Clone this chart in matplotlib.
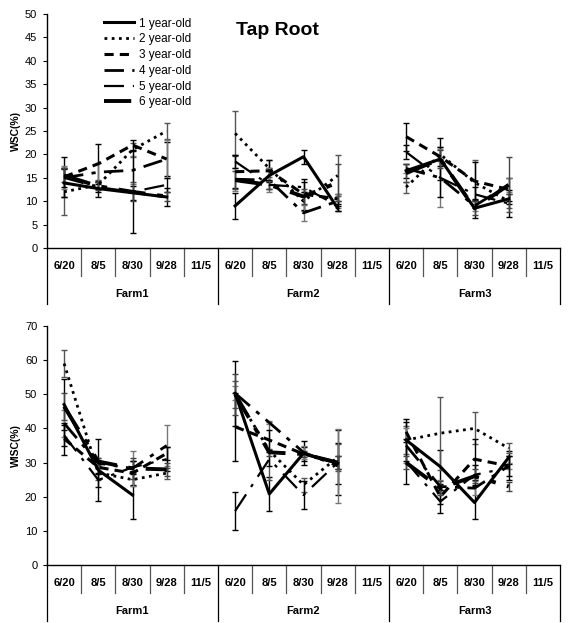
import numpy as np
import matplotlib
matplotlib.use('Agg')
import matplotlib.pyplot as plt
from matplotlib.lines import Line2D

plt.rcParams['font.family'] = ['Liberation Sans', 'DejaVu Sans']

dates = ['6/20', '8/5', '8/30', '9/28', '11/5']
farms = ['Farm1', 'Farm2', 'Farm3']
labels = ['1 year-old', '2 year-old', '3 year-old', '4 year-old', '5 year-old', '6 year-old']
nan = np.nan

# ---- Top panel (WSC %) : 15 values per series (Farm1 x5, Farm2 x5, Farm3 x5)
top_y1 = [13.9, 12.7, 11.8, 10.9, nan, 9.0, 15.5, 19.5, 8.5, nan, 16.5, 19.0, 8.5, 10.5, nan]
top_y2 = [12.0, 13.5, 21.0, 25.0, nan, 24.5, 17.0, 10.0, 15.5, nan, 13.0, 20.0, 14.0, 10.0, nan]
top_y3 = [15.2, 18.0, 22.0, 19.0, nan, 16.3, 16.5, 11.5, 10.5, nan, 23.8, 19.5, 14.3, 12.5, nan]
top_y4 = [15.0, 16.2, 16.6, 19.0, nan, 14.7, 14.5, 7.5, 10.0, nan, 17.0, 15.0, 9.0, 13.5, nan]
top_y5 = [15.0, 13.0, 12.0, 13.5, nan, 18.5, 13.5, 13.0, 9.0, nan, 20.5, 15.0, 11.5, 9.5, nan]
top_y6 = [15.5, 13.2, 12.0, 11.0, nan, 14.5, 13.5, 11.0, 14.0, nan, 16.0, 19.0, 8.5, 13.5, nan]

top_e1 = [3.0, 1.7, 1.5, 1.9, nan, 2.8, 1.5, 1.5, 0.5, nan, 1.5, 4.5, 2.0, 1.0, nan]
top_e2 = [5.0, 1.0, 1.5, 1.8, nan, 4.8, 1.8, 2.0, 4.3, nan, 1.2, 1.5, 4.7, 1.5, nan]
top_e3 = [4.2, 4.3, 1.0, 3.7, nan, 3.5, 2.2, 3.3, 1.0, nan, 3.0, 2.0, 4.0, 2.5, nan]
top_e4 = [2.5, 2.0, 3.0, 4.0, nan, 2.5, 2.5, 1.7, 1.5, nan, 1.0, 6.2, 1.0, 1.5, nan]
top_e5 = [2.0, 1.0, 8.8, 1.5, nan, 1.3, 1.0, 1.0, 1.0, nan, 1.5, 4.0, 1.5, 2.8, nan]
top_e6 = [1.5, 0.8, 2.0, 1.0, nan, 2.0, 0.8, 1.5, 4.0, nan, 2.0, 2.0, 1.5, 5.9, nan]

# ---- Bottom panel (WISC %)
bot_y1 = [47.0, 27.8, 20.5, nan, nan, 50.3, 20.8, 32.7, 29.8, nan, 36.6, 28.8, 18.3, 31.5, nan]
bot_y2 = [59.0, 27.0, 25.0, 26.9, nan, 50.0, 33.5, 23.5, 31.5, nan, 36.6, 38.6, 40.0, 34.2, nan]
bot_y3 = [37.0, 28.6, 26.9, 32.7, nan, 40.5, 36.6, 32.5, 30.0, nan, 39.0, 20.0, 31.0, 29.0, nan]
bot_y4 = [41.5, 29.8, 28.3, 35.0, nan, 50.3, 41.7, 33.0, 29.0, nan, 35.0, 23.0, 22.5, 29.0, nan]
bot_y5 = [38.0, 24.9, 28.6, 31.0, nan, 15.8, 31.0, 20.5, 30.0, nan, 30.3, 18.6, 26.4, 28.5, nan]
bot_y6 = [46.4, 30.3, 28.3, 28.0, nan, 50.0, 33.0, 32.5, 30.0, nan, 30.0, 22.5, 26.0, 23.0, nan]

bot_e1 = [7.5, 9.0, 7.0, nan, nan, 9.5, 5.0, 3.5, 6.0, nan, 6.2, 5.0, 4.8, 2.0, nan]
bot_e2 = [4.0, 2.0, 2.0, 1.6, nan, 4.0, 8.5, 2.0, 4.0, nan, 4.0, 10.7, 4.7, 1.4, nan]
bot_e3 = [4.7, 2.0, 3.5, 2.0, nan, 10.0, 3.0, 2.0, 9.4, nan, 3.0, 2.0, 6.0, 3.0, nan]
bot_e4 = [4.0, 1.5, 5.2, 6.0, nan, 2.0, 0.5, 2.0, 10.8, nan, 5.0, 2.0, 2.0, 1.0, nan]
bot_e5 = [3.0, 2.0, 2.0, 3.5, nan, 5.5, 2.0, 4.0, 2.0, nan, 6.5, 3.4, 3.0, 3.5, nan]
bot_e6 = [4.0, 1.0, 3.0, 2.0, nan, 6.0, 1.0, 1.0, 2.0, nan, 2.0, 2.0, 2.0, 1.2, nan]

styles = [
    dict(ls='-', lw=2.2),
    dict(ls=(0, (1, 1.6)), lw=2.0),
    dict(ls=(0, (3, 2)), lw=2.2),
    dict(ls=(0, (7, 3, 1.5, 3)), lw=2.0),
    dict(ls=(0, (9, 4, 1.5, 4)), lw=1.6),
    dict(ls=(0, (7, 3, 1.5, 3)), lw=2.8),
]
ecolors = ['black', '#555555', 'black', '#777777', 'black', '#444444']

fig = plt.figure(figsize=(5.69, 6.23), dpi=100)
W, H = 569, 623

def make_ax(top_px, bot_px):
    return fig.add_axes([47 / W, 1 - bot_px / H, (560 - 47) / W, (bot_px - top_px) / H])

ax1 = make_ax(14, 248)
ax2 = make_ax(326, 565)

x = np.arange(15) + 0.5

def draw(ax, ys, es, ymax, step, ylabel):
    for i, (y, e) in enumerate(zip(ys, es)):
        ax.errorbar(x, y, yerr=e, color='black', ecolor=ecolors[i], elinewidth=1.0,
                    capsize=2.5, capthick=1.0, **styles[i])
    ax.set_xlim(0, 15)
    ax.set_ylim(0, ymax)
    ax.set_yticks(np.arange(0, ymax + 0.1, step))
    ax.tick_params(axis='y', direction='out', length=3, labelsize=8, pad=4)
    ax.set_xticks([])
    for s in ['top', 'right']:
        ax.spines[s].set_visible(False)
    ax.spines['left'].set_linewidth(1.0)
    ax.spines['bottom'].set_linewidth(1.0)
    ax.set_ylabel(ylabel, fontsize=7.5, fontweight='bold', labelpad=3)
    tr = ax.get_xaxis_transform()
    h = ax.get_position().height * H
    d_short = 28 / h
    d_long = 56 / h
    for k in range(16):
        if k % 5 == 0:
            ax.plot([k, k], [0, -d_long], transform=tr, color='black', lw=0.9, clip_on=False)
        else:
            ax.plot([k, k], [0, -d_short], transform=tr, color='#555555', lw=0.9, clip_on=False)
    for i in range(15):
        ax.text(i + 0.5, -18 / h, dates[i % 5], transform=tr, ha='center', va='center',
                fontsize=8, fontweight='bold')
    for f in range(3):
        ax.text(f * 5 + 2.5, -46 / h, farms[f], transform=tr, ha='center', va='center',
                fontsize=8, fontweight='bold')

draw(ax1, [top_y1, top_y2, top_y3, top_y4, top_y5, top_y6],
     [top_e1, top_e2, top_e3, top_e4, top_e5, top_e6], 50, 5, 'WSC(%)')
draw(ax2, [bot_y1, bot_y2, bot_y3, bot_y4, bot_y5, bot_y6],
     [bot_e1, bot_e2, bot_e3, bot_e4, bot_e5, bot_e6], 70, 10, 'WISC(%)')

handles = [Line2D([0], [0], color='black', **st) for st in styles]
ax1.legend(handles, labels, loc='upper left', bbox_to_anchor=(0.09, 1.03), frameon=False,
           fontsize=8.5, handlelength=2.6, handletextpad=0.4, labelspacing=0.32)
ax1.text(0.45, 0.93, 'Tap Root', transform=ax1.transAxes, ha='center', va='center',
         fontsize=14, fontweight='bold')

fig.savefig('out.png', dpi=100)
